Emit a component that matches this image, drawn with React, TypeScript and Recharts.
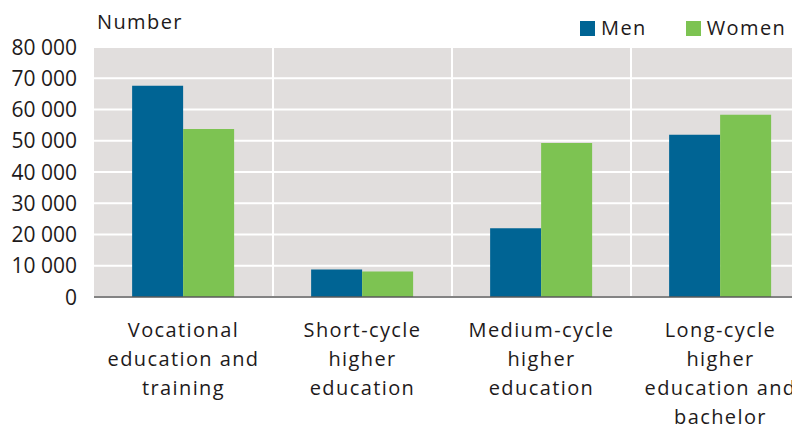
import React from "react";
import { BarChart, Bar, XAxis, YAxis, CartesianGrid } from "recharts";

const categories = [
  "Vocational education and training",
  "Short-cycle higher education",
  "Medium-cycle higher education",
  "Long-cycle higher education and bachelor",
];
const categoryLines = [
  ["Vocational", "education and", "training"],
  ["Short-cycle", "higher", "education"],
  ["Medium-cycle", "higher", "education"],
  ["Long-cycle", "higher", "education and", "bachelor"],
];
const men = [67600, 8800, 22000, 51900];
const women = [53800, 8200, 49300, 58300];
const seriesNames = ["Men", "Women"];
const yTicks = [0, 10000, 20000, 30000, 40000, 50000, 60000, 70000, 80000];
const yTickLabels = ["0", "10 000", "20 000", "30 000", "40 000", "50 000", "60 000", "70 000", "80 000"];
const yTitle = "Number";

const BLUE = "#006494";
const GREEN = "#7dc352";
const BG = "#e1dedd";
const TEXT = "#1e1a1b";
const FONT = "'Open Sans', sans-serif";

const data = categories.map((c, i) => ({ category: c, men: men[i], women: women[i] }));

const XTick = (props: any) => {
  const { x, y, payload } = props;
  const idx = categories.indexOf(payload.value);
  const lines = categoryLines[idx] || [payload.value];
  return (
    <text
      x={x}
      y={y + 32}
      textAnchor="middle"
      fill={TEXT}
      fontSize={20}
      fontWeight={500}
      fontFamily={FONT}
      letterSpacing={1.4}
    >
      {lines.map((l, i) => (
        <tspan key={i} x={x} dy={i === 0 ? 0 : 29}>
          {l}
        </tspan>
      ))}
    </text>
  );
};

const YTick = (props: any) => {
  const { x, y, payload } = props;
  const idx = yTicks.indexOf(payload.value);
  return (
    <text
      x={x}
      y={y + 7.5}
      textAnchor="end"
      fill={TEXT}
      fontSize={21}
      fontWeight={500}
      fontFamily={FONT}
      letterSpacing={0}
    >
      {yTickLabels[idx]}
    </text>
  );
};

export default function App() {
  return (
    <div
      style={{
        position: "relative",
        marginLeft: -8,
        marginTop: -8,
        width: 800,
        height: 426,
        overflow: "hidden",
        background: "#fff",
      }}
    >
      <div
        style={{
          position: "absolute",
          left: 97,
          top: 8,
          fontFamily: FONT,
          fontSize: 20,
          fontWeight: 500,
          letterSpacing: 1.4,
          color: TEXT,
          lineHeight: "28px",
        }}
      >
        {yTitle}
      </div>
      <div
        style={{
          position: "absolute",
          left: 580,
          top: 14,
          display: "flex",
          alignItems: "center",
          fontFamily: FONT,
          fontSize: 20,
          fontWeight: 500,
          letterSpacing: 1.4,
          color: TEXT,
          lineHeight: "28px",
          zIndex: 2,
        }}
      >
        {seriesNames.map((n, i) => (
          <div key={n} style={{ display: "flex", alignItems: "center", marginRight: i === 0 ? 39 : 0 }}>
            <span
              style={{
                display: "inline-block",
                width: 15,
                height: 15,
                background: i === 0 ? BLUE : GREEN,
                marginRight: 6,
              }}
            />
            <span>{n}</span>
          </div>
        ))}
      </div>
      <BarChart
        width={812}
        height={426}
        data={data}
        margin={{ top: 47, right: 2, bottom: 0, left: 0 }}
        barCategoryGap="21.3%"
        barGap={0}
      >
        <CartesianGrid
          fill={BG}
          stroke="#ffffff"
          strokeWidth={2}
          horizontal={true}
          vertical={true}
          verticalCoordinatesGenerator={({ offset }: any) => [
            offset.left + offset.width / 4,
            offset.left + offset.width / 2,
            offset.left + (offset.width * 3) / 4,
          ]}
        />
        <XAxis
          dataKey="category"
          tick={<XTick />}
          tickLine={false}
          axisLine={{ stroke: "#5a5a5a", strokeWidth: 1.5 }}
          height={129}
          interval={0}
        />
        <YAxis
          domain={[0, 80000]}
          ticks={yTicks}
          tick={<YTick />}
          tickLine={false}
          axisLine={false}
          tickSize={0}
          tickMargin={17}
          width={94}
          interval={0}
        />
        <Bar dataKey="men" name="Men" fill={BLUE} isAnimationActive={false} />
        <Bar dataKey="women" name="Women" fill={GREEN} isAnimationActive={false} />
      </BarChart>
    </div>
  );
}
